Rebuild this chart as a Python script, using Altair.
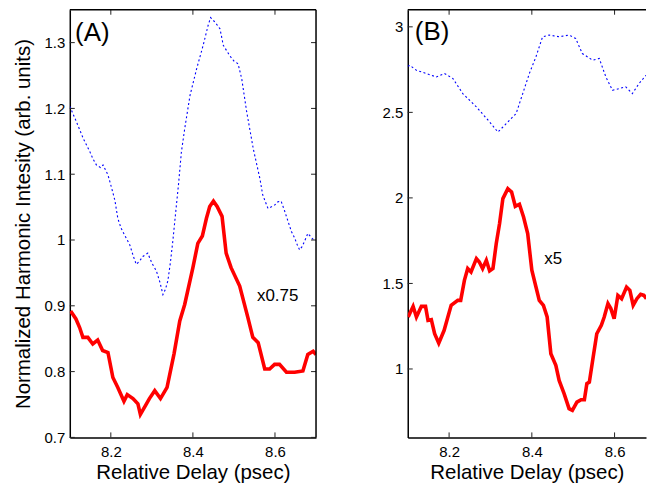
import altair as alt
import pandas as pd

# ---------------- Panel A data ----------------
a_blue_x = [8.100, 8.116, 8.133, 8.149, 8.156, 8.165, 8.175, 8.181, 8.193, 8.202,
            8.210, 8.217, 8.225, 8.233, 8.246, 8.255, 8.262, 8.270, 8.278, 8.290,
            8.300, 8.311, 8.320, 8.327, 8.333, 8.339, 8.345, 8.351, 8.359, 8.365,
            8.372, 8.380, 8.393, 8.409, 8.425, 8.437, 8.443, 8.454, 8.466, 8.474,
            8.482, 8.490, 8.500, 8.510, 8.519, 8.531, 8.547, 8.563, 8.570, 8.576,
            8.583, 8.590, 8.599, 8.607, 8.615, 8.623, 8.632, 8.640, 8.648, 8.654,
            8.660, 8.666, 8.672, 8.680, 8.687, 8.693, 8.700]
a_blue_y = [1.203, 1.180, 1.154, 1.134, 1.124, 1.114, 1.110, 1.114, 1.099, 1.079,
            1.060, 1.033, 1.018, 1.008, 0.993, 0.975, 0.963, 0.968, 0.975, 0.980,
            0.965, 0.953, 0.935, 0.917, 0.925, 0.938, 0.965, 0.998, 1.048, 1.085,
            1.134, 1.169, 1.220, 1.260, 1.296, 1.326, 1.338, 1.331, 1.321, 1.296,
            1.288, 1.280, 1.272, 1.268, 1.245, 1.195, 1.139, 1.094, 1.069, 1.059,
            1.048, 1.050, 1.053, 1.058, 1.059, 1.045, 1.028, 1.013, 1.003, 0.993,
            0.985, 0.990, 0.998, 1.010, 1.005, 1.001, 1.000]

a_red_x = [8.102, 8.115, 8.124, 8.132, 8.144, 8.156, 8.168, 8.180, 8.193, 8.205,
           8.217, 8.232, 8.240, 8.254, 8.266, 8.272, 8.284, 8.294, 8.307, 8.321,
           8.337, 8.354, 8.368, 8.380, 8.400, 8.412, 8.423, 8.433, 8.441, 8.450,
           8.459, 8.471, 8.481, 8.493, 8.514, 8.534, 8.546, 8.559, 8.575, 8.587,
           8.599, 8.611, 8.628, 8.648, 8.668, 8.680, 8.693, 8.700]
a_red_y = [0.892, 0.880, 0.867, 0.852, 0.852, 0.842, 0.848, 0.832, 0.829, 0.791,
           0.776, 0.755, 0.765, 0.759, 0.751, 0.735, 0.748, 0.759, 0.771, 0.759,
           0.776, 0.827, 0.877, 0.902, 0.958, 0.995, 1.006, 1.033, 1.051, 1.059,
           1.051, 1.036, 0.980, 0.958, 0.930, 0.882, 0.852, 0.844, 0.804, 0.804,
           0.811, 0.811, 0.799, 0.799, 0.801, 0.826, 0.831, 0.826]

# ---------------- Panel B data ----------------
b_blue_x = [8.100, 8.105, 8.121, 8.145, 8.169, 8.189, 8.209, 8.233, 8.266, 8.298,
            8.318, 8.338, 8.362, 8.378, 8.394, 8.410, 8.426, 8.442, 8.466, 8.490,
            8.506, 8.522, 8.547, 8.563, 8.579, 8.595, 8.611, 8.627, 8.643, 8.659,
            8.676]
b_blue_y = [2.770, 2.775, 2.746, 2.727, 2.707, 2.727, 2.698, 2.610, 2.532, 2.444,
            2.385, 2.434, 2.493, 2.610, 2.727, 2.825, 2.942, 2.952, 2.942, 2.952,
            2.932, 2.844, 2.805, 2.815, 2.707, 2.629, 2.639, 2.649, 2.610, 2.668,
            2.717]

b_red_x = [8.101, 8.113, 8.121, 8.133, 8.143, 8.149, 8.157, 8.165, 8.175, 8.188,
           8.197, 8.205, 8.221, 8.228, 8.237, 8.245, 8.253, 8.266, 8.273, 8.281,
           8.290, 8.298, 8.306, 8.314, 8.322, 8.330, 8.342, 8.351, 8.360, 8.370,
           8.380, 8.390, 8.400, 8.410, 8.418, 8.428, 8.437, 8.446, 8.458, 8.466,
           8.478, 8.490, 8.498, 8.509, 8.519, 8.527, 8.533, 8.539, 8.547, 8.557,
           8.568, 8.575, 8.584, 8.591, 8.599, 8.608, 8.617, 8.629, 8.637, 8.645,
           8.654, 8.663, 8.671, 8.677]
b_red_y = [1.304, 1.366, 1.304, 1.366, 1.366, 1.284, 1.288, 1.206, 1.151, 1.226,
           1.304, 1.372, 1.401, 1.401, 1.518, 1.587, 1.567, 1.645, 1.625, 1.587,
           1.635, 1.573, 1.587, 1.733, 1.850, 1.996, 2.054, 2.035, 1.951, 1.963,
           1.888, 1.791, 1.577, 1.479, 1.401, 1.372, 1.304, 1.089, 1.021, 0.933,
           0.856, 0.768, 0.758, 0.806, 0.820, 0.820, 0.914, 0.923, 1.050, 1.206,
           1.255, 1.304, 1.382, 1.353, 1.294, 1.430, 1.411, 1.479, 1.460, 1.372,
           1.411, 1.436, 1.430, 1.411]

# ---------------- ticks and labels ----------------
x_ticks = [8.2, 8.4, 8.6]
a_y_ticks = [0.7, 0.8, 0.9, 1.0, 1.1, 1.2, 1.3]
b_y_ticks = [1.0, 1.5, 2.0, 2.5, 3.0]

a_x_domain = [8.1, 8.7]
a_y_domain = [0.7, 1.35]
b_x_domain = [8.1, 8.676]
b_y_domain = [0.6, 3.1]

a_label = ["(A)"]
a_label_x = [8.113]
a_label_y = [1.315]
b_label = ["(B)"]
b_label_x = [8.117]
b_label_y = [2.972]

a_note = ["x0.75"]
a_note_x = [8.556]
a_note_y = [0.915]
b_note = ["x5"]
b_note_x = [8.430]
b_note_y = [1.643]

x_title = "Relative Delay (psec)"
y_title = "Normalized Harmonic Intesity (arb. units)"

H = 429
W_A = 247
W_B = 239
TICK = 5


def panel(blue_x, blue_y, red_x, red_y, xdom, ydom, yticks, lab, lab_x, lab_y,
          note, note_x, note_y, width, ytitle, right_border):
    xs = alt.Scale(domain=xdom, nice=False, zero=False)
    ys = alt.Scale(domain=ydom, nice=False, zero=False)
    xaxis = alt.Axis(values=x_ticks, format=".1f", title=x_title, ticks=False,
                     grid=False, domain=True, labelPadding=7, titlePadding=3)
    yaxis = alt.Axis(values=yticks, format=".1~f", title=ytitle, ticks=False,
                     grid=False, domain=True, labelPadding=5, titlePadding=11)

    def X(f):
        return alt.X(f, type="quantitative", scale=xs, axis=xaxis)

    def Y(f):
        return alt.Y(f, type="quantitative", scale=ys, axis=yaxis)

    blue = alt.Chart(pd.DataFrame({"x": blue_x, "y": blue_y})).mark_line(
        color="#0000ff", strokeWidth=1.1, strokeDash=[2, 2.5], clip=True
    ).encode(x=X("x"), y=Y("y"))

    red = alt.Chart(pd.DataFrame({"x": red_x, "y": red_y})).mark_line(
        color="#ff0000", strokeWidth=3.6, clip=True
    ).encode(x=X("x"), y=Y("y"))

    lab_layer = alt.Chart(pd.DataFrame({"x": lab_x, "y": lab_y, "t": lab})).mark_text(
        fontSize=26, align="left", baseline="middle", color="black"
    ).encode(x=X("x"), y=Y("y"), text="t:N")

    note_layer = alt.Chart(pd.DataFrame({"x": note_x, "y": note_y, "t": note})).mark_text(
        fontSize=17, align="left", baseline="middle", color="black"
    ).encode(x=X("x"), y=Y("y"), text="t:N")

    xt = pd.DataFrame({"t": x_ticks})
    yt = pd.DataFrame({"t": yticks})
    one = pd.DataFrame({"k": [0]})

    tick_style = dict(color="#222222", strokeWidth=1)
    bottom_ticks = alt.Chart(xt).mark_rule(**tick_style).encode(
        x=X("t"), y=alt.value(H - TICK), y2=alt.value(H))
    top_ticks = alt.Chart(xt).mark_rule(**tick_style).encode(
        x=X("t"), y=alt.value(0), y2=alt.value(TICK))
    left_ticks = alt.Chart(yt).mark_rule(**tick_style).encode(
        y=Y("t"), x=alt.value(0), x2=alt.value(TICK))
    top_border = alt.Chart(one).mark_rule(color="black", strokeWidth=1.5).encode(
        x=alt.value(0), x2=alt.value(width), y=alt.value(0))

    layers = [blue, red, lab_layer, note_layer, bottom_ticks, top_ticks, left_ticks, top_border]
    if right_border:
        right_ticks = alt.Chart(yt).mark_rule(**tick_style).encode(
            y=Y("t"), x=alt.value(width - TICK), x2=alt.value(width))
        right_line = alt.Chart(one).mark_rule(color="black", strokeWidth=1.5).encode(
            x=alt.value(width), y=alt.value(0), y2=alt.value(H))
        layers += [right_ticks, right_line]

    return alt.layer(*layers).properties(width=width, height=H)


pa = panel(a_blue_x, a_blue_y, a_red_x, a_red_y, a_x_domain, a_y_domain, a_y_ticks,
           a_label, a_label_x, a_label_y, a_note, a_note_x, a_note_y, W_A, y_title, True)
pb = panel(b_blue_x, b_blue_y, b_red_x, b_red_y, b_x_domain, b_y_domain, b_y_ticks,
           b_label, b_label_x, b_label_y, b_note, b_note_x, b_note_y, W_B, None, False)

chart = alt.hconcat(pa, pb, spacing=65).configure(
    padding={"left": 13, "top": 8, "right": 0, "bottom": 5},
    font="Liberation Sans",
).configure_view(stroke=None).configure_axis(
    labelFontSize=15, titleFontSize=20.5, labelColor="black", titleColor="black",
    titleFontWeight="normal", domainColor="black", domainWidth=1.5,
    labelFont="Liberation Sans", titleFont="Liberation Sans",
)

chart.save("out.html", embed_options={"renderer": "svg", "actions": False})
